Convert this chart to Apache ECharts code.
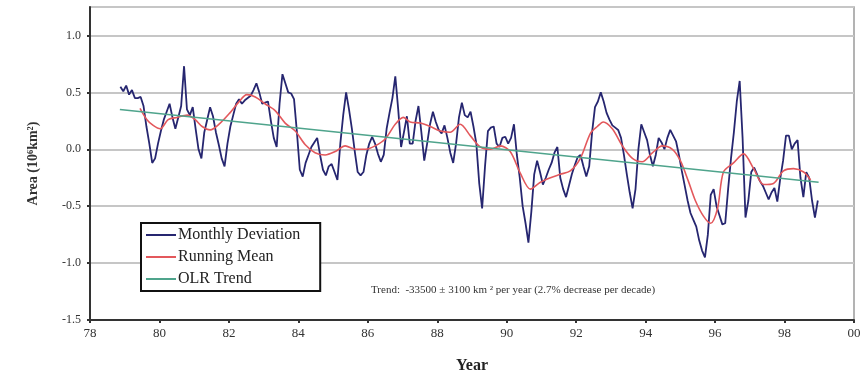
<!DOCTYPE html>
<html>
<head>
<meta charset="utf-8">
<script src="https://cdn.jsdelivr.net/npm/echarts@6/dist/echarts.min.js"></script>
<style>html,body{margin:0;padding:0;background:#fff;}#c{width:864px;height:382px;}</style>
</head>
<body>
<div id="c"></div>
<script>
// Monthly deviation, starting Nov 1978 (year 78.875), one value per month
const monthlyStartYear = 78.875;
const monthlyDeviation = [
 0.55, 0.51, 0.56, 0.48, 0.52, 0.45, 0.45, 0.46, 0.38, 0.20, 0.05, -0.12,
 -0.08, 0.05, 0.16, 0.26, 0.33, 0.40, 0.28, 0.18, 0.28, 0.38, 0.73, 0.35,
 0.30, 0.37, 0.18, 0.00, -0.08, 0.15, 0.26, 0.37, 0.29, 0.15, 0.04, -0.08,
 -0.15, 0.05, 0.20, 0.30, 0.40, 0.44, 0.40, 0.43, 0.45, 0.47, 0.52, 0.58,
 0.50, 0.40, 0.41, 0.42, 0.25, 0.10, 0.02, 0.40, 0.66, 0.58, 0.50, 0.49,
 0.44, 0.15, -0.18, -0.24, -0.12, -0.05, 0.02, 0.06, 0.10, -0.05, -0.18, -0.23,
 -0.15, -0.13, -0.20, -0.27, 0.05, 0.30, 0.50, 0.35, 0.18, -0.02, -0.20, -0.23,
 -0.20, -0.05, 0.05, 0.11, 0.05, -0.04, -0.11, -0.05, 0.18, 0.32, 0.45, 0.64,
 0.35, 0.02, 0.15, 0.29, 0.05, 0.05, 0.25, 0.38, 0.15, -0.10, 0.05, 0.22,
 0.33, 0.24, 0.17, 0.14, 0.21, 0.10, -0.03, -0.12, 0.05, 0.28, 0.41, 0.30,
 0.28, 0.33, 0.20, 0.05, -0.30, -0.52, -0.15, 0.16, 0.19, 0.20, 0.05, 0.02,
 0.10, 0.11, 0.05, 0.10, 0.22, -0.05, -0.25, -0.50, -0.65, -0.82, -0.55, -0.22,
 -0.10, -0.20, -0.31, -0.25, -0.18, -0.12, -0.03, 0.02, -0.25, -0.35, -0.42, -0.32,
 -0.22, -0.14, -0.07, -0.05, -0.15, -0.24, -0.15, 0.15, 0.37, 0.42, 0.50, 0.42,
 0.32, 0.26, 0.21, 0.19, 0.17, 0.10, -0.05, -0.22, -0.38, -0.52, -0.35, 0.00,
 0.22, 0.15, 0.08, -0.05, -0.15, -0.05, 0.10, 0.06, 0.00, 0.10, 0.17, 0.12,
 0.07, -0.05, -0.19, -0.32, -0.45, -0.56, -0.62, -0.68, -0.80, -0.89, -0.95, -0.75,
 -0.40, -0.35, -0.50, -0.58, -0.66, -0.65, -0.35, -0.08, 0.15, 0.42, 0.60, 0.10,
 -0.60, -0.45, -0.20, -0.16, -0.22, -0.28, -0.32, -0.38, -0.44, -0.38, -0.34, -0.46,
 -0.26, -0.10, 0.12, 0.12, 0.00, 0.05, 0.08, -0.25, -0.42, -0.20, -0.25, -0.45,
 -0.60, -0.45
];

// Running mean (read at irregular positions)
const runningYears = [79.44, 79.64, 79.82, 80.02, 80.25, 80.51, 80.80, 81.03, 81.23, 81.46,
 81.75, 82.03, 82.27, 82.52, 82.76, 83.04, 83.33, 83.62, 83.91, 84.20,
 84.48, 84.77, 85.06, 85.35, 85.64, 85.93, 86.21, 86.50, 86.79, 87.02,
 87.22, 87.51, 87.80, 88.09, 88.37, 88.66, 88.95, 89.24, 89.53, 89.82,
 90.10, 90.39, 90.68, 90.97, 91.26, 91.54, 91.83, 92.12, 92.41, 92.61,
 92.78, 93.04, 93.33, 93.62, 93.90, 94.20, 94.48, 94.77, 95.00, 95.23,
 95.43, 95.67, 95.87, 96.07, 96.24, 96.53, 96.82, 97.11, 97.40, 97.68,
 97.97, 98.26, 98.55, 98.75];
const runningMean = [0.36, 0.26, 0.21, 0.18, 0.26, 0.28, 0.30, 0.26, 0.20, 0.17,
 0.23, 0.32, 0.41, 0.48, 0.46, 0.40, 0.34, 0.23, 0.16, 0.04,
 -0.03, -0.05, -0.02, 0.03, 0.00, 0.00, 0.03, 0.09, 0.22, 0.28,
 0.24, 0.23, 0.20, 0.16, 0.15, 0.22, 0.12, 0.02, 0.00, 0.03,
 -0.02, -0.21, -0.35, -0.29, -0.25, -0.22, -0.19, -0.08, 0.14, 0.20,
 0.24, 0.18, 0.03, -0.08, -0.11, -0.03, 0.03, 0.00, -0.10, -0.28,
 -0.45, -0.59, -0.65, -0.52, -0.20, -0.12, -0.04, -0.17, -0.31, -0.30,
 -0.19, -0.17, -0.20, -0.27];

// OLR trend end points
const trendYears = [78.86, 98.98];
const trendValues = [0.35, -0.29];

const xTickLabels = ['78','80','82','84','86','88','90','92','94','96','98','00'];
const seriesNames = ['Monthly Deviation', 'Running Mean', 'OLR Trend'];
const trendText = 'Trend:  -33500 \u00b1 3100 km \u00b2 per year (2.7% decrease per decade)';

const serif = '"Liberation Serif", "DejaVu Serif", serif';
const monthlyData = monthlyDeviation.map((v, i) => [monthlyStartYear + i / 12, v]);
const runningData = runningYears.map((y, i) => [y, runningMean[i]]);
const trendData = trendYears.map((y, i) => [y, trendValues[i]]);

const chart = echarts.init(document.getElementById('c'), null, {renderer: 'canvas'});
chart.setOption({
  animation: false,
  backgroundColor: '#ffffff',
  grid: {left: 90, right: 10, top: 7, bottom: 62, show: true, borderColor: '#9a9a9a', borderWidth: 1.5},
  legend: {
    orient: 'vertical', left: 141, top: 223,
    data: seriesNames,
    icon: 'rect',
    backgroundColor: '#ffffff',
    borderColor: '#111', borderWidth: 2,
    padding: [3, 20, 3, 5],
    itemWidth: 30, itemHeight: 2, itemGap: 4,
    textStyle: {fontFamily: serif, fontSize: 16, color: '#222', lineHeight: 18, padding: [0, 0, 0, -3]}
  },
  xAxis: {
    type: 'value', min: 78, max: 100, interval: 2,
    name: 'Year', nameLocation: 'middle', nameGap: 38,
    nameTextStyle: {fontFamily: serif, fontSize: 16, fontWeight: 'bold', color: '#222'},
    axisLine: {show: true, onZero: false, lineStyle: {color: '#333', width: 2}},
    axisTick: {show: true, length: 3, lineStyle: {color: '#333', width: 2}},
    axisLabel: {fontFamily: serif, fontSize: 13, color: '#333', margin: 7,
      formatter: v => xTickLabels[Math.round((v - 78) / 2)]},
    splitLine: {show: false}
  },
  yAxis: {
    type: 'value', min: -1.5, max: 1.25, interval: 0.5,
    name: 'Area (10\u2076km\u00b2)', nameLocation: 'middle', nameGap: 50, nameRotate: 90,
    nameTextStyle: {fontFamily: serif, fontSize: 14, fontWeight: 'bold', color: '#333'},
    axisLine: {show: true, lineStyle: {color: '#333', width: 2}},
    axisTick: {show: true, length: 3, lineStyle: {color: '#333', width: 2}},
    axisLabel: {fontFamily: serif, fontSize: 12, color: '#333', margin: 9, showMaxLabel: false,
      formatter: v => v.toFixed(1)},
    splitLine: {show: true, lineStyle: {color: '#c6c6c6', width: 2}}
  },
  graphic: [{
    type: 'text', left: 371, top: 285,
    style: {text: trendText, font: '11px ' + serif, fill: '#333'}
  }],
  series: [
    {name: seriesNames[0], type: 'line', data: monthlyData, symbol: 'none', z: 3,
      lineStyle: {color: '#262670', width: 1.8}, itemStyle: {color: '#262670'}},
    {name: seriesNames[1], type: 'line', data: runningData, symbol: 'none', smooth: 0.3, z: 4,
      lineStyle: {color: '#e3585c', width: 1.6}, itemStyle: {color: '#e3585c'}},
    {name: seriesNames[2], type: 'line', data: trendData, symbol: 'none', z: 5,
      lineStyle: {color: '#4fa48c', width: 1.6}, itemStyle: {color: '#4fa48c'}}
  ]
});
</script>
</body>
</html>
